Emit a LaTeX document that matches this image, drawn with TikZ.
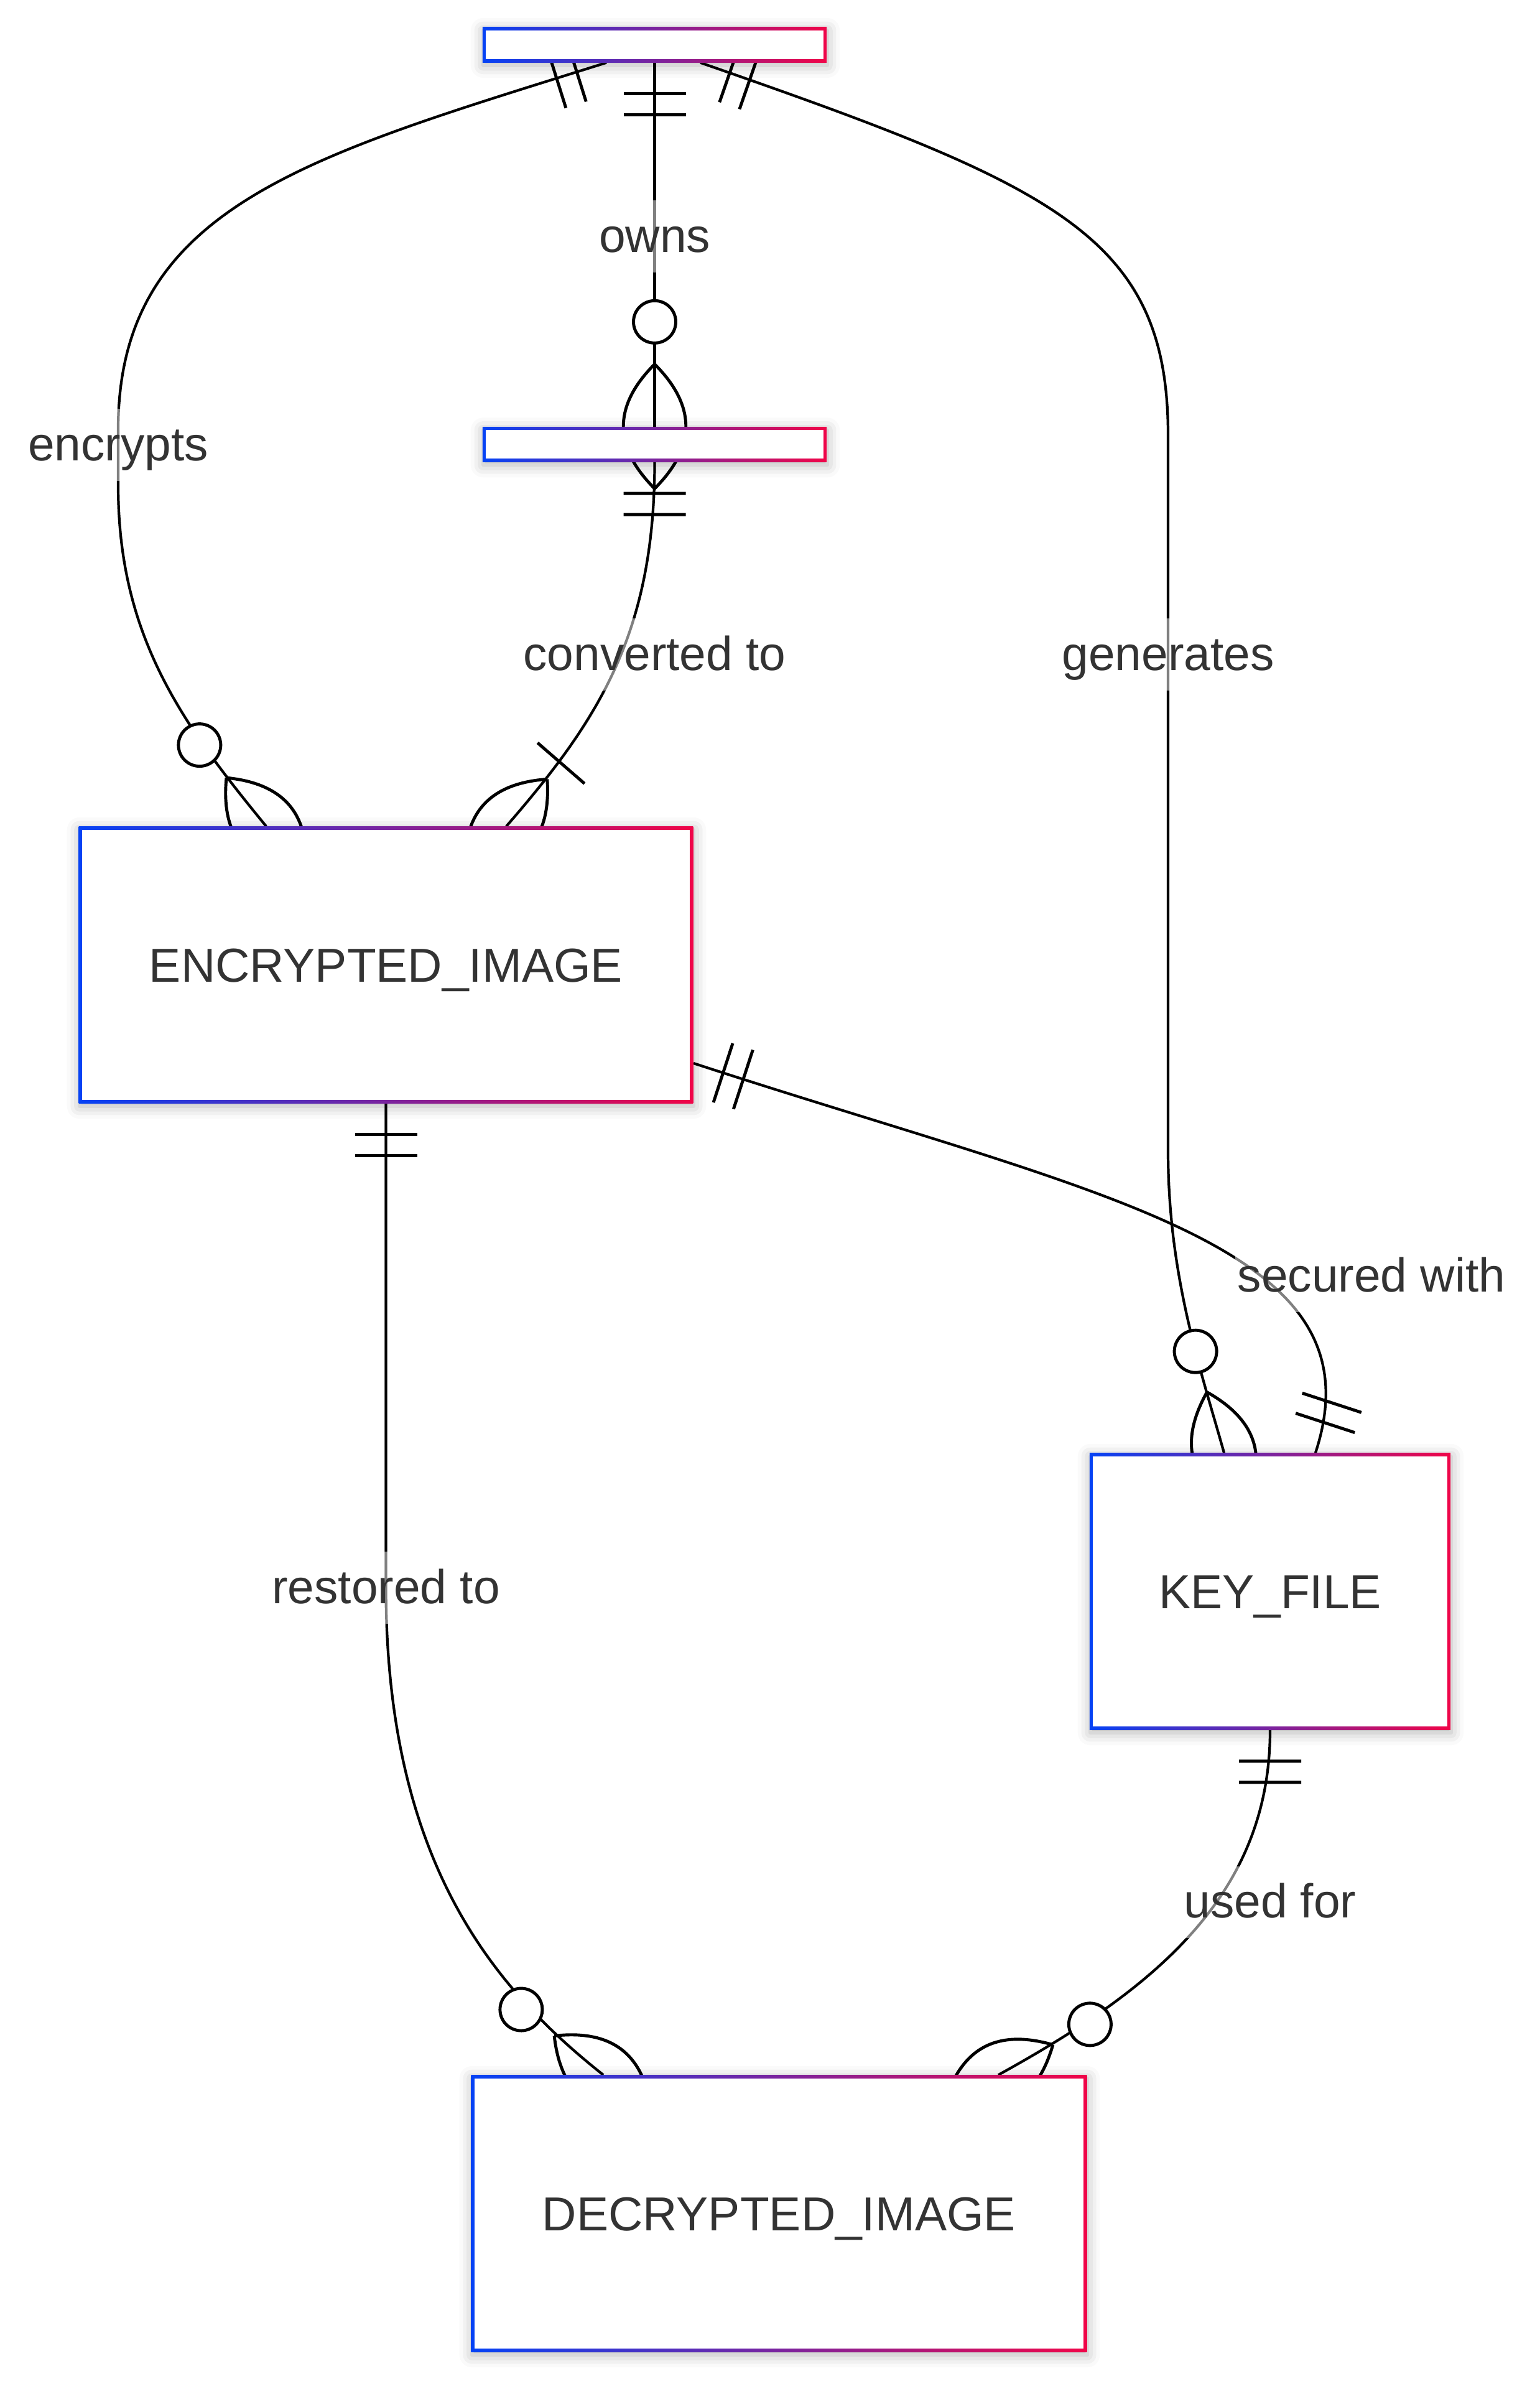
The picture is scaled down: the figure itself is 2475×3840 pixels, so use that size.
\documentclass[tikz,border=0pt]{standalone}
\usepackage{fontspec}
\setmainfont{Liberation Sans}
\usetikzlibrary{positioning,decorations.markings,shadows.blur}
\definecolor{ebBlue}{RGB}{5,66,245}
\definecolor{ebRed}{RGB}{240,5,72}
\definecolor{ebText}{HTML}{333333}
\pgfdeclarelayer{edges}
\pgfsetlayers{edges,main}
\newcommand\erOne{\draw[mk] (50,-50) -- (50,50) (84,-50) -- (84,50);}
\newcommand\erLens{\draw[mk] (100,0) .. controls (33,67) and (-33,67) .. (-100,0) .. controls (-33,-67) and (33,-67) .. (100,0);}
\newcommand\erOneMany{\erLens\draw[mk] (134,-50) -- (134,50);}
\newcommand\erZeroMany{\erLens\draw[mk,fill=white] (168,0) circle[radius=34];}
\tikzset{
ends/.style 2 args={postaction={decorate,decoration={markings,
  mark=at position 0 with {#1},
  mark=at position 0.9995 with {\begin{scope}[rotate=180]#2\end{scope}}}}}
}

\begin{document}
\begin{tikzpicture}[x=0.01cm,y=-0.01cm]
\tikzstyle{entity}=[rectangle,inner sep=0pt,minimum height=4.44cm,
left color=ebBlue,right color=ebRed,text=ebText,
font=\fontsize{21.8}{26}\selectfont,text height=15.6pt,text depth=0pt,
blur shadow={shadow xshift=0.01cm,shadow yshift=-0.05cm,shadow blur radius=0.2cm,shadow opacity=30},
path picture={\fill[white] ([shift={(0.05cm,0.05cm)}]path picture bounding box.south west)
 rectangle ([shift={(-0.05cm,-0.05cm)}]path picture bounding box.north east);}]
\tikzstyle{lbl}=[fill=white,fill opacity=0.5,text opacity=1,text=ebText,
inner xsep=1pt,inner ysep=0pt,minimum height=1.15cm,text height=16pt,text depth=1.5pt,
font=\fontsize{21.8}{26}\selectfont]
\tikzstyle{rel}=[draw=black,line width=1.2pt]
\tikzstyle{mk}=[draw=black,line width=1.4pt]

\useasboundingbox (0,0) rectangle (2475,3840);

\node[entity,minimum width=5.53cm,minimum height=0.56cm] at (1052.5,72) (blank1) {};
\node[entity,minimum width=5.53cm,minimum height=0.56cm,below of=blank1,node distance=6.42cm] (blank2) {};
\node[entity,minimum width=9.87cm] at (620.5,1551) (enc) {ENCRYPTED\_IMAGE};
\node[entity,minimum width=5.80cm] at (2042,2558) (key) {KEY\_FILE};
\node[entity,minimum width=9.89cm] at (1252.5,3558) (dec) {DECRYPTED\_IMAGE};

\begin{pgfonlayer}{edges}
\coordinate (encc1) at (500,250);
\coordinate (encc2) at (190,330);
\coordinate (encm1) at (190,690);
\coordinate (encm2) at (190,780);
\coordinate (encc3) at (190,1020);
\coordinate (encc4) at (290,1160);
\coordinate (genc1) at (1700,300);
\coordinate (genc2) at (1878,380);
\coordinate (genm1) at (1878,700);
\coordinate (genm2) at (1878,1850);
\coordinate (genc3) at (1878,2050);
\coordinate (genc4) at (1930,2200);
\coordinate (conc1) at (1052.5,1020);
\coordinate (conc2) at (960,1160);
\coordinate (secc1) at (1780,1926);
\coordinate (secc2) at (2225,2000);
\coordinate (resm1) at (620.5,2550);
\coordinate (resc1) at (620.5,3000);
\coordinate (resc2) at (800,3200);
\coordinate (usec1) at (2042,3050);
\coordinate (usec2) at (1850,3200);

\draw[rel,ends={\erOne}{\erZeroMany}] (blank1) -- (blank2);
\draw[rel,ends={\erOne}{\erZeroMany}] ([shift={(-77.5,0)}]blank1.south) .. controls (encc1) and (encc2) .. (encm1)
 -- (encm2) .. controls (encc3) and (encc4) .. ([shift={(-192.5,0)}]enc.north);
\draw[rel,ends={\erOne}{\erZeroMany}] ([shift={(73.5,0)}]blank1.south) .. controls (genc1) and (genc2) .. (genm1)
 -- (genm2) .. controls (genc3) and (genc4) .. ([shift={(-74,0)}]key.north);
\draw[rel,ends={\erOne}{\erOneMany}] (blank2.south) .. controls (conc1) and (conc2) .. ([shift={(193.5,0)}]enc.north);
\draw[rel,ends={\erOne}{\erOne}] ([shift={(0,158)}]enc.east) .. controls (secc1) and (secc2) .. ([shift={(73,0)}]key.north);
\draw[rel,ends={\erOne}{\erZeroMany}] (enc.south) -- (resm1) .. controls (resc1) and (resc2) .. ([shift={(-282.5,0)}]dec.north);
\draw[rel,ends={\erOne}{\erZeroMany}] (key.south) .. controls (usec1) and (usec2) .. ([shift={(352.5,0)}]dec.north);

\node[lbl] at (1052.5,380) (lowns) {owns};
\node[lbl] at (190,715) (lenc) {encrypts};
\node[lbl] at (1052.5,1052) (lconv) {converted to};
\node[lbl] at (1878,1052) (lgen) {generates};
\node[lbl] at (2205,2051) (lsec) {secured with};
\node[lbl] at (620.5,2552) (lres) {restored to};
\node[lbl] at (2042,3057) (luse) {used for};
\end{pgfonlayer}

\end{tikzpicture}
\end{document}
